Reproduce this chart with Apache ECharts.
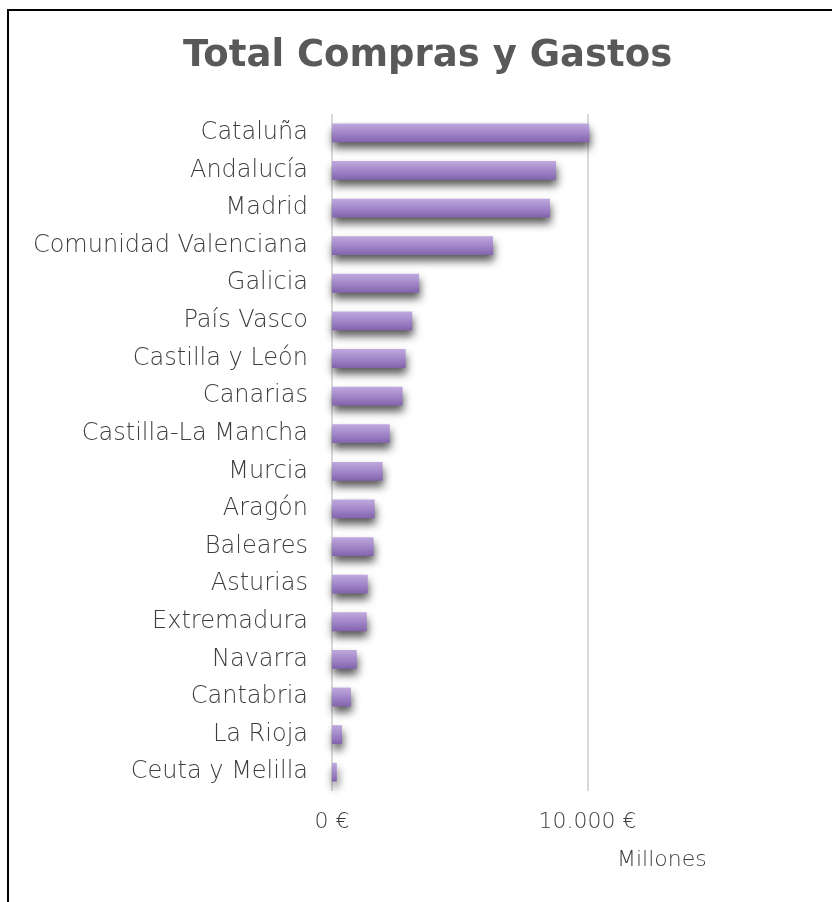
<!DOCTYPE html>
<html>
<head>
<meta charset="utf-8">
<script src="https://cdn.jsdelivr.net/npm/echarts@6/dist/echarts.min.js"></script>
<style>html,body{margin:0;padding:0;background:#fff;}#c{width:832px;height:902px;}</style>
</head>
<body>
<div id="c"></div>
<script>
const categories = ["Cataluña","Andalucía","Madrid","Comunidad Valenciana","Galicia","País Vasco","Castilla y León","Canarias","Castilla-La Mancha","Murcia","Aragón","Baleares","Asturias","Extremadura","Navarra","Cantabria","La Rioja","Ceuta y Melilla"];
const values = [10070, 8770, 8530, 6300, 3410, 3140, 2880, 2760, 2260, 1980, 1670, 1630, 1400, 1360, 970, 740, 390, 190];
const tickValues = [0, 10000];
const axisMax = 19450;
const titleText = "Total Compras y Gastos";
const unitText = "Millones";

const font = "'DejaVu Sans', sans-serif";
function fmt(v) {
  const s = String(Math.round(v)).replace(/\B(?=(\d{3})+(?!\d))/g, '.');
  return s + ' €';
}
const chart = echarts.init(document.getElementById('c'));
chart.setOption({
  backgroundColor: '#fff',
  animation: false,
  title: {
    text: titleText,
    left: 178,
    top: 33,
    textStyle: { fontFamily: font, fontSize: 37, fontWeight: 'bold', color: '#595959' }
  },
  graphic: [
    { type: 'rect', shape: { x: 8, y: 10, width: 900, height: 950 }, style: { fill: 'none', stroke: '#000', lineWidth: 2 }, silent: true },
    { type: 'text', left: 617, top: 849, style: { text: unitText, font: "300 22px 'DejaVu Sans', sans-serif", fill: '#3d3d3d' } }
  ],
  grid: { left: 332, right: 0, top: 114, bottom: 111, containLabel: false },
  xAxis: {
    type: 'value',
    min: 0, max: axisMax, interval: 10000,
    axisLine: { show: false },
    axisTick: { show: false },
    splitLine: { show: true, showMaxLine: false, lineStyle: { color: '#d9d9d9', width: 2 } },
    axisLabel: {
      margin: 20,
      fontFamily: font, fontSize: 22, fontWeight: 300, color: '#3d3d3d',
      formatter: function (v) { return tickValues.indexOf(v) < 0 ? '' : fmt(v); }
    }
  },
  yAxis: {
    type: 'category',
    data: categories,
    inverse: true,
    axisLine: { show: false },
    axisTick: { show: false },
    axisLabel: { margin: 24, fontFamily: font, fontSize: 24, fontWeight: 300, color: '#3d3d3d' }
  },
  series: [{
    type: 'bar',
    data: values,
    barWidth: '50%',
    itemStyle: {
      color: new echarts.graphic.LinearGradient(0, 0, 0, 1, [
        { offset: 0, color: '#bfa9dd' },
        { offset: 0.5, color: '#a287c9' },
        { offset: 1, color: '#8263ad' }
      ]),
      shadowColor: 'rgba(0,0,0,0.65)',
      shadowBlur: 9,
      shadowOffsetY: 6,
      shadowOffsetX: 1
    }
  }]
});
</script>
</body>
</html>
